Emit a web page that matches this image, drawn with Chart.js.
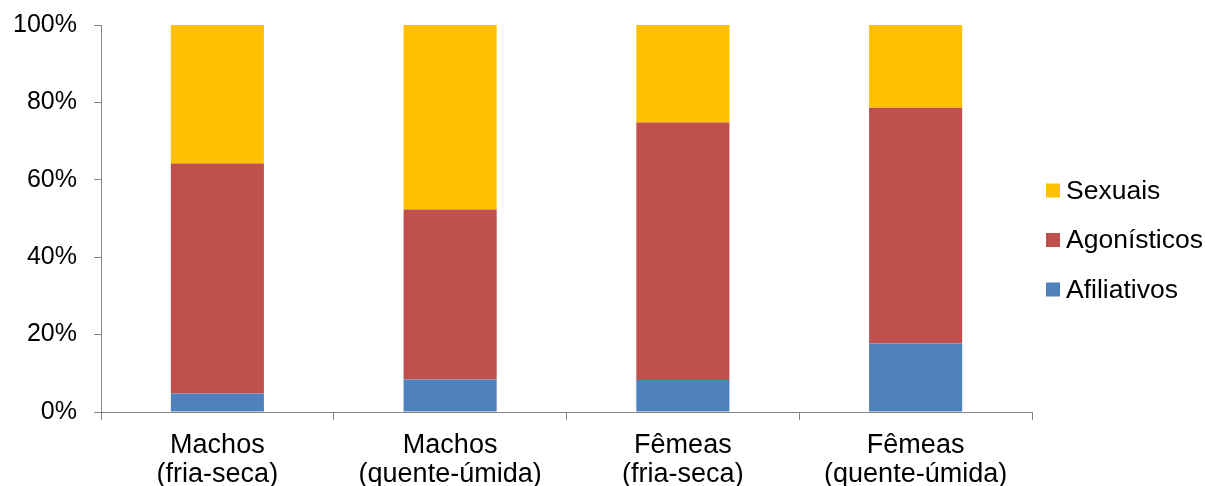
<!DOCTYPE html>
<html>
<head>
<meta charset="utf-8">
<script src="https://cdn.jsdelivr.net/npm/chart.js@4"></script>
<style>
  html, body { margin: 0; padding: 0; background: #fff; }
  #wrap { width: 1205px; height: 486px; }
</style>
</head>
<body>
<div id="wrap"><canvas id="c" width="1205" height="486"></canvas></div>
<script>
// Categories (two-line labels) and percentage share of each behaviour type
const categories = [
  ['Machos', '(fria-seca)'],
  ['Machos', '(quente-úmida)'],
  ['Fêmeas', '(fria-seca)'],
  ['Fêmeas', '(quente-úmida)']
];
const afiliativos = [4.8, 8.4, 8.3, 17.7];
const agonisticos = [59.4, 43.9, 66.5, 60.9];
const sexuais = [35.8, 47.7, 25.2, 21.4];
const yTicks = [0, 20, 40, 60, 80, 100];

const FONT = '"Liberation Sans", Arial, sans-serif';
const AXIS_GREY = '#868686';

// Legend drawn at the right, top-to-bottom in reverse stacking order
const sideLegend = {
  id: 'sideLegend',
  afterDraw(chart) {
    const ctx = chart.ctx;
    const area = chart.chartArea;
    const items = chart.data.datasets.slice().reverse();
    const gap = 49.5;
    const midY = chart.height / 2 - 3;
    const startY = midY - gap * (items.length - 1) / 2;
    const boxX = area.right + 14;
    ctx.save();
    ctx.font = '26.5px ' + FONT;
    ctx.textBaseline = 'middle';
    ctx.textAlign = 'left';
    items.forEach((ds, i) => {
      const y = startY + i * gap;
      ctx.fillStyle = ds.backgroundColor;
      ctx.fillRect(boxX, y - 7, 14, 14);
      ctx.fillStyle = '#000';
      ctx.fillText(ds.label, boxX + 20, y + 1);
    });
    ctx.restore();
  }
};

new Chart(document.getElementById('c'), {
  type: 'bar',
  data: {
    labels: categories,
    datasets: [
      { label: 'Afiliativos', data: afiliativos, backgroundColor: '#4F81BD' },
      { label: 'Agonísticos', data: agonisticos, backgroundColor: '#C0504D' },
      { label: 'Sexuais', data: sexuais, backgroundColor: '#FFC000' }
    ]
  },
  options: {
    responsive: false,
    animation: false,
    devicePixelRatio: 1,
    layout: { padding: { left: 0, right: 173, top: 25, bottom: 0 } },
    datasets: { bar: { categoryPercentage: 1.0, barPercentage: 0.4, borderWidth: 0 } },
    plugins: {
      legend: { display: false },
      tooltip: { enabled: false }
    },
    scales: {
      x: {
        stacked: true,
        offset: true,
        afterFit(scale) { scale.height = 74; },
        grid: {
          display: true,
          offset: true,
          drawOnChartArea: false,
          drawTicks: true,
          tickLength: 8,
          color: AXIS_GREY,
          lineWidth: 1
        },
        border: { display: true, color: AXIS_GREY, width: 1 },
        ticks: {
          color: '#000',
          padding: 12,
          maxRotation: 0,
          autoSkip: false,
          font: { family: FONT, size: 27, lineHeight: 1.04 }
        }
      },
      y: {
        stacked: true,
        min: 0,
        max: 100,
        afterFit(scale) {
          scale.width = 101;
          scale.paddingTop = 0;
          scale.paddingBottom = 0;
        },
        afterBuildTicks(scale) {
          scale.ticks = yTicks.map(v => ({ value: v }));
        },
        grid: {
          display: true,
          drawOnChartArea: false,
          drawTicks: true,
          tickLength: 7,
          color: AXIS_GREY,
          lineWidth: 1
        },
        border: { display: true, color: AXIS_GREY, width: 1 },
        ticks: {
          color: '#000',
          padding: 17,
          font: { family: FONT, size: 25 },
          callback: v => v + '%'
        }
      }
    }
  },
  plugins: [sideLegend]
});
</script>
</body>
</html>
